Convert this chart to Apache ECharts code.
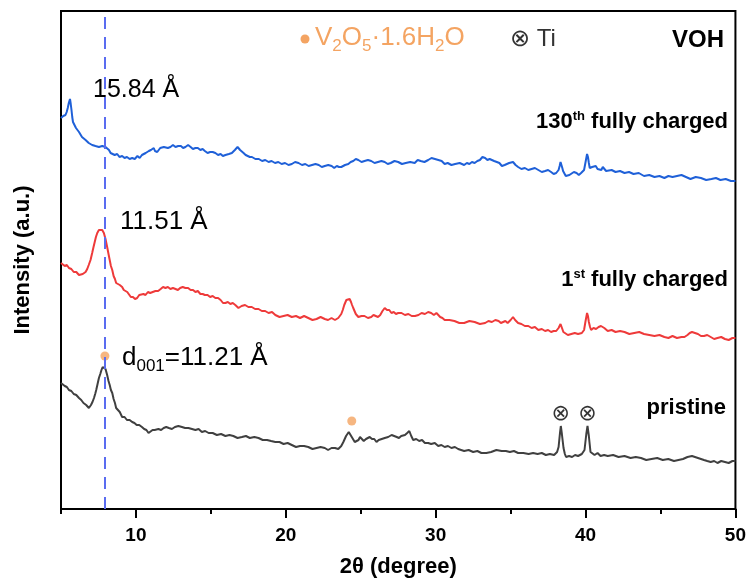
<!DOCTYPE html>
<html>
<head>
<meta charset="utf-8">
<script src="https://cdn.jsdelivr.net/npm/echarts@6/dist/echarts.min.js"></script>
<style>
  html, body { margin: 0; padding: 0; background: #fff; }
  #chart { width: 749px; height: 583px; }
</style>
</head>
<body>
<div id="chart"></div>
<script>
// [2theta (degree), intensity (a.u.)]
const charged130 = [
  [5.0,391],[5.08,390],[5.15,393],[5.22,392],[5.3,394],[5.38,397],[5.45,401],[5.52,406],[5.6,410],[5.65,405],
  [5.7,399],[5.75,392],[5.8,387],[5.9,385],[6.0,381],[6.1,380],[6.2,377],[6.3,376],[6.4,372],[6.52,372],
  [6.64,369],[6.75,369],[6.85,366],[6.97,366],[7.08,364],[7.19,362],[7.3,363],[7.42,361],[7.53,362],[7.64,364],
  [7.75,363],[7.86,361],[7.97,362],[8.08,361],[8.2,359],[8.31,356],[8.42,357],[8.58,354],[8.75,355],[8.9,352],
  [9.08,353],[9.24,351],[9.4,352],[9.58,350],[9.75,351],[9.92,350],[10.1,353],[10.25,351],[10.4,354],[10.52,353],
  [10.65,356],[10.76,356],[10.86,358],[10.93,360],[11.0,359],[11.1,361],[11.19,361],[11.27,358],[11.35,359],[11.42,357],
  [11.5,358],[11.62,361],[11.75,360],[11.86,362],[11.97,361],[12.13,361],[12.3,362],[12.47,364],[12.64,362],[12.82,363],
  [13.0,363],[13.15,361],[13.3,362],[13.48,364],[13.65,362],[13.8,360],[13.97,361],[14.13,361],[14.3,359],[14.45,360],
  [14.6,358],[14.78,356],[14.95,357],[15.12,357],[15.3,356],[15.48,354],[15.65,355],[15.8,353],[15.97,354],[16.08,356],
  [16.2,355],[16.3,357],[16.4,356],[16.5,357],[16.6,359],[16.7,361],[16.78,362],[16.86,361],[16.95,359],[17.06,357],
  [17.18,356],[17.32,354],[17.45,354],[17.6,352],[17.74,352],[17.97,350],[18.2,350],[18.42,348],[18.63,349],[18.85,347],
  [19.05,348],[19.28,346],[19.5,347],[19.72,345],[19.95,346],[20.18,344],[20.4,345],[20.62,347],[20.85,346],[21.08,344],
  [21.3,345],[21.52,343],[21.75,344],[21.98,345],[22.2,344],[22.4,342],[22.6,343],[22.83,344],[23.06,343],[23.23,341],
  [23.4,343],[23.55,342],[23.7,342],[23.82,343],[23.95,344],[24.06,346],[24.17,345],[24.33,347],[24.5,348],[24.67,350],
  [24.84,349],[25.05,347],[25.25,348],[25.48,349],[25.7,348],[25.92,346],[26.15,347],[26.38,348],[26.6,347],[26.8,345],
  [27.0,346],[27.25,348],[27.5,347],[27.75,345],[28.0,346],[28.3,347],[28.6,346],[28.8,349],[29.0,348],[29.25,347],
  [29.5,349],[29.72,351],[29.95,350],[30.18,349],[30.4,348],[30.6,345],[30.8,346],[31.05,344],[31.3,345],[31.6,346],
  [31.9,344],[32.08,346],[32.25,345],[32.42,347],[32.6,346],[32.78,348],[32.95,349],[33.12,352],[33.3,351],[33.45,349],
  [33.6,350],[33.75,349],[33.9,348],[34.08,347],[34.25,346],[34.42,343],[34.6,344],[34.75,345],[34.9,346],[35.03,344],
  [35.16,347],[35.33,344],[35.5,342],[35.72,340],[35.95,341],[36.18,339],[36.4,340],[36.62,341],[36.85,339],[37.08,337],
  [37.3,338],[37.5,339],[37.7,337],[37.87,335],[38.04,336],[38.12,337],[38.2,339],[38.27,343],[38.33,347],[38.39,345],
  [38.45,341],[38.5,338],[38.55,336],[38.68,333],[38.8,335],[38.92,334],[39.04,335],[39.22,337],[39.4,336],[39.55,334],
  [39.7,336],[39.8,337],[39.9,339],[40.0,347],[40.1,355],[40.16,352],[40.22,346],[40.28,341],[40.33,339],[40.44,342],
  [40.55,340],[40.68,343],[40.8,340],[40.92,342],[41.05,339],[41.15,342],[41.26,341],[41.37,338],[41.48,337],[41.74,339],
  [42.0,337],[42.3,338],[42.6,336],[42.9,337],[43.2,335],[43.55,336],[43.9,333],[44.25,334],[44.6,332],[44.93,333],
  [45.26,331],[45.53,333],[45.8,332],[46.1,333],[46.4,334],[46.7,332],[47.0,330],[47.35,332],[47.7,331],[48.05,329],
  [48.4,330],[48.7,331],[49.0,329],[49.35,330],[49.7,328],[50.0,328]
];

const charged1st = [
  [5.0,246],[5.12,245],[5.25,243],[5.39,244],[5.53,241],[5.69,240],[5.85,237],[6.02,237],[6.2,234],[6.33,236],
  [6.45,235],[6.55,234],[6.64,237],[6.75,240],[6.85,244],[6.97,249],[7.08,256],[7.17,262],[7.25,267],[7.33,272],
  [7.42,276],[7.53,279],[7.64,278],[7.75,279],[7.86,276],[7.97,270],[8.08,262],[8.17,255],[8.25,249],[8.33,243],
  [8.42,239],[8.51,233],[8.6,230],[8.68,226],[8.75,224],[8.92,224],[9.08,222],[9.19,219],[9.3,218],[9.42,217],
  [9.53,215],[9.66,212],[9.8,212],[9.94,210],[10.08,211],[10.22,214],[10.35,213],[10.5,215],[10.64,214],[10.8,217],
  [10.95,216],[11.12,217],[11.3,218],[11.48,218],[11.65,220],[11.81,222],[11.97,221],[12.13,222],[12.3,220],[12.47,221],
  [12.64,220],[12.8,219],[12.95,221],[13.12,222],[13.3,221],[13.48,221],[13.65,219],[13.81,219],[13.97,217],[14.13,218],
  [14.3,215],[14.45,215],[14.6,214],[14.78,214],[14.95,212],[15.12,213],[15.3,211],[15.48,211],[15.65,209],[15.81,206],
  [15.97,206],[16.13,207],[16.3,205],[16.46,206],[16.63,204],[16.84,201],[17.05,203],[17.28,204],[17.5,202],[17.73,202],
  [17.95,200],[18.18,200],[18.4,198],[18.62,198],[18.85,196],[19.08,197],[19.3,194],[19.58,192],[19.85,193],[20.12,194],
  [20.4,192],[20.68,193],[20.95,191],[21.22,193],[21.5,191],[21.78,189],[22.05,190],[22.32,192],[22.6,190],[22.82,189],
  [23.05,191],[23.28,189],[23.5,191],[23.6,192],[23.7,195],[23.8,199],[23.9,204],[24.04,209],[24.17,210],[24.26,210],
  [24.35,207],[24.42,204],[24.5,201],[24.67,195],[24.84,192],[25.05,193],[25.25,193],[25.48,191],[25.7,192],[25.85,194],
  [26.0,193],[26.15,192],[26.3,194],[26.45,198],[26.6,201],[26.75,199],[26.9,199],[27.05,196],[27.2,197],[27.35,195],
  [27.5,196],[27.72,196],[27.95,194],[28.18,195],[28.4,193],[28.62,193],[28.85,194],[29.06,196],[29.28,195],[29.5,197],
  [29.7,196],[29.88,194],[30.05,196],[30.18,194],[30.3,192],[30.45,191],[30.6,189],[30.92,189],[31.25,188],[31.58,186],
  [31.9,186],[32.25,188],[32.6,187],[32.95,185],[33.3,186],[33.52,188],[33.75,187],[33.98,189],[34.2,188],[34.35,186],
  [34.5,187],[34.65,188],[34.8,186],[34.9,187],[35.0,189],[35.08,191],[35.16,192],[35.23,191],[35.3,189],[35.4,187],
  [35.5,186],[35.72,185],[35.95,183],[36.18,183],[36.4,181],[36.62,182],[36.85,179],[37.08,180],[37.3,178],[37.5,179],
  [37.7,177],[37.87,178],[38.04,178],[38.12,179],[38.2,181],[38.27,183],[38.33,185],[38.39,183],[38.45,180],[38.52,177],
  [38.6,176],[38.82,174],[39.05,175],[39.28,176],[39.5,175],[39.63,174],[39.75,176],[39.83,177],[39.9,179],[40.0,188],
  [40.1,196],[40.16,193],[40.22,187],[40.3,182],[40.37,179],[40.53,181],[40.7,180],[40.87,182],[41.03,183],[41.14,182],
  [41.25,181],[41.37,179],[41.48,178],[41.74,179],[42.0,177],[42.3,178],[42.6,177],[42.92,175],[43.25,176],[43.58,177],
  [43.9,175],[44.25,174],[44.6,173],[44.93,174],[45.26,172],[45.53,171],[45.8,173],[46.1,171],[46.4,172],[46.6,172],
  [46.8,174],[46.95,176],[47.1,177],[47.3,176],[47.5,175],[47.7,173],[47.9,173],[48.12,174],[48.35,172],[48.58,170],
  [48.8,171],[49.05,172],[49.3,170],[49.55,169],[49.8,171],[50.0,171]
];

const pristine = [
  [5.0,126],[5.12,125],[5.25,123],[5.39,122],[5.53,119],[5.69,118],[5.85,115],[6.02,114],[6.2,111],[6.35,109],
  [6.5,106],[6.68,104],[6.86,101],[6.93,102],[7.0,104],[7.1,107],[7.2,111],[7.28,115],[7.35,119],[7.44,125],
  [7.53,131],[7.62,135],[7.7,139],[7.78,142],[7.86,143],[7.97,140],[8.08,134],[8.17,128],[8.25,124],[8.33,119],
  [8.42,116],[8.51,110],[8.6,106],[8.68,101],[8.75,99],[8.92,97],[9.08,92],[9.24,92],[9.4,89],[9.58,89],
  [9.75,87],[9.9,86],[10.05,84],[10.22,84],[10.4,82],[10.55,80],[10.7,79],[10.84,76],[10.97,77],[11.11,79],
  [11.25,79],[11.38,81],[11.5,80],[11.68,79],[11.85,81],[12.02,82],[12.2,81],[12.4,80],[12.6,82],[12.83,83],
  [13.07,82],[13.28,81],[13.5,81],[13.74,80],[13.97,79],[14.18,80],[14.4,77],[14.62,78],[14.85,76],[15.12,76],
  [15.4,74],[15.68,75],[15.97,73],[16.24,74],[16.5,73],[16.78,71],[17.07,72],[17.34,73],[17.6,71],[17.9,72],
  [18.18,71],[18.46,69],[18.75,69],[19.02,68],[19.3,67],[19.58,67],[19.85,65],[20.12,66],[20.4,64],[20.68,62],
  [20.95,63],[21.22,63],[21.5,62],[21.78,60],[22.05,61],[22.32,62],[22.6,61],[22.82,59],[23.05,61],[23.28,61],
  [23.5,60],[23.6,61],[23.7,63],[23.77,65],[23.84,67],[24.02,73],[24.2,77],[24.3,75],[24.4,72],[24.5,70],
  [24.6,67],[24.72,68],[24.85,69],[24.95,72],[25.06,70],[25.2,68],[25.35,70],[25.48,71],[25.6,72],[25.75,70],
  [25.9,70],[26.05,67],[26.2,69],[26.4,70],[26.6,71],[26.83,72],[27.06,74],[27.23,73],[27.4,72],[27.55,71],
  [27.7,73],[27.83,73],[27.95,74],[28.1,76],[28.24,78],[28.37,73],[28.5,69],[28.7,70],[28.9,68],[29.09,69],
  [29.28,66],[29.5,66],[29.7,65],[29.94,66],[30.17,63],[30.38,64],[30.6,62],[30.82,63],[31.05,61],[31.28,62],
  [31.5,60],[31.7,59],[31.9,58],[32.2,59],[32.5,57],[32.78,58],[33.05,56],[33.38,56],[33.7,57],[34.05,59],
  [34.4,58],[34.68,58],[34.95,57],[35.22,58],[35.5,56],[35.85,56],[36.2,55],[36.5,56],[36.8,55],[37.08,56],
  [37.35,54],[37.62,55],[37.9,54],[38.0,55],[38.1,57],[38.2,62],[38.3,77],[38.35,83],[38.42,75],[38.53,61],
  [38.62,55],[38.7,52],[38.9,53],[39.1,52],[39.3,54],[39.5,53],[39.62,52],[39.75,55],[39.85,56],[39.93,59],
  [40.05,75],[40.13,83],[40.22,73],[40.33,57],[40.46,55],[40.6,54],[40.8,56],[41.0,53],[41.24,54],[41.48,53],
  [41.84,54],[42.2,52],[42.6,53],[43.0,51],[43.35,52],[43.7,51],[44.05,49],[44.4,50],[44.78,51],[45.15,49],
  [45.52,50],[45.9,48],[46.2,49],[46.5,50],[46.8,52],[47.1,53],[47.3,52],[47.5,51],[47.7,50],[47.9,49],
  [48.12,48],[48.35,47],[48.58,48],[48.8,46],[49.05,48],[49.3,47],[49.55,46],[49.8,48],[50.0,48]
];

const vohPeaks = [[7.93, 153], [24.4, 88]];     // orange dots
const tiPeaks = [[38.35, 95], [40.13, 95]];     // ⊗ marks
const dLine = 7.95;
const tickLabels = [10, 20, 30, 40, 50];

const FONT = "'Liberation Sans', Arial, Helvetica, sans-serif";
const ORANGE = '#f4a462';

let chart = echarts.init(document.getElementById('chart'), null, { renderer: 'canvas' });

// text with subscripts: pieces laid out one after another, subscripts smaller and lowered
let measure = document.createElement('canvas').getContext('2d');
let subText = (x, y, pieces, color) => {
  let out = [];
  pieces.forEach(([t, sub]) => {
    let font = sub ? '17px ' + FONT : '26px ' + FONT;
    measure.font = font;
    out.push({
      type: 'text', x: x, y: sub ? y + 8 : y,
      style: { text: t, font: font, fill: color, verticalAlign: 'middle' }
    });
    x += measure.measureText(t).width;
  });
  return out;
}

let supRich = (color) => ({
  a: { fontFamily: FONT, fontSize: 22, fontWeight: 'bold', color: color, lineHeight: 24 },
  s: { fontFamily: FONT, fontSize: 13, fontWeight: 'bold', color: color, verticalAlign: 'top', lineHeight: 12 }
})

let option = {
  animation: false,
  backgroundColor: '#fff',
  grid: {
    left: 61, right: 12, top: 11, bottom: 74,
    show: true, borderColor: '#000', borderWidth: 2
  },
  xAxis: [
    {
      type: 'value', min: 5, max: 50, interval: 5,
      name: '2θ (degree)', nameLocation: 'middle', nameGap: 47,
      nameTextStyle: { fontFamily: FONT, fontSize: 22, fontWeight: 'bold', color: '#000' },
      axisLine: { lineStyle: { color: '#000', width: 2 } },
      axisTick: { length: 5, lineStyle: { color: '#000', width: 2 } },
      axisLabel: { show: false },
      splitLine: { show: false }
    },
    {
      type: 'value', min: 5, max: 50, position: 'bottom',
      axisLine: { show: false },
      axisTick: { customValues: tickLabels, length: 9, lineStyle: { color: '#000', width: 2 } },
      axisLabel: {
        customValues: tickLabels, margin: 17,
        fontFamily: FONT, fontSize: 19, fontWeight: 'bold', color: '#000'
      },
      splitLine: { show: false }
    }
  ],
  yAxis: {
    type: 'value', min: 0, max: 498,
    name: 'Intensity (a.u.)', nameLocation: 'middle', nameGap: 27,
    nameTextStyle: { fontFamily: FONT, fontSize: 22, fontWeight: 'bold', color: '#000' },
    axisLine: { show: false }, axisTick: { show: false },
    axisLabel: { show: false }, splitLine: { show: false }
  },
  series: [
    {
      name: 'pristine', type: 'line', data: pristine, showSymbol: false,
      lineStyle: { color: '#404040', width: 2 }, z: 3,
      markLine: {
        silent: true, symbol: 'none', label: { show: false },
        lineStyle: { color: '#5a6cf0', type: [12, 8], width: 2 },
        data: [{ xAxis: dLine }]
      }
    },
    {
      name: '1st', type: 'line', data: charged1st, showSymbol: false,
      lineStyle: { color: '#ee3a3a', width: 2 }, z: 3
    },
    {
      name: '130th', type: 'line', data: charged130, showSymbol: false,
      lineStyle: { color: '#1f60d8', width: 2 }, z: 3
    },
    {
      name: 'V2O5', type: 'scatter', data: vohPeaks, symbolSize: 9,
      itemStyle: { color: ORANGE }, z: 4
    },
    {
      name: 'Ti', type: 'scatter', data: tiPeaks, symbolSize: 1,
      itemStyle: { color: 'transparent' },
      label: {
        show: true, position: 'inside', formatter: '⊗',
        fontFamily: "'DejaVu Sans', sans-serif", fontSize: 22, color: '#000'
      }, z: 4
    }
  ],
  graphic: [
    { type: 'text', x: 93, y: 90, style: { text: '15.84 Å', font: '25px ' + FONT, fill: '#000', verticalAlign: 'middle' } },
    { type: 'text', x: 120, y: 222, style: { text: '11.51 Å', font: '26px ' + FONT, fill: '#000', verticalAlign: 'middle' } },
    ...subText(122, 358, [['d', 0], ['001', 1], ['=11.21 Å', 0]], '#000'),
    { type: 'circle', shape: { cx: 305, cy: 39, r: 4.5 }, style: { fill: ORANGE } },
    ...subText(315, 38, [['V', 0], ['2', 1], ['O', 0], ['5', 1], ['·1.6H', 0], ['2', 1], ['O', 0]], ORANGE),
    { type: 'text', x: 510, y: 39, style: { text: '⊗ Ti', font: '24px ' + FONT, fill: '#333', verticalAlign: 'middle' } },
    { type: 'text', x: 724, y: 40, style: { text: 'VOH', font: 'bold 24px ' + FONT, fill: '#000', align: 'right', verticalAlign: 'middle' } },
    {
      type: 'text', x: 728, y: 122,
      style: { text: '{a|130}{s|th}{a| fully charged}', align: 'right', verticalAlign: 'middle', rich: supRich('#1f6ab2') }
    },
    {
      type: 'text', x: 728, y: 280,
      style: { text: '{a|1}{s|st}{a| fully charged}', align: 'right', verticalAlign: 'middle', rich: supRich('#e8141c') }
    },
    { type: 'text', x: 726, y: 408, style: { text: 'pristine', font: 'bold 22px ' + FONT, fill: '#000', align: 'right', verticalAlign: 'middle' } }
  ]
};

chart.setOption(option);
</script>
</body>
</html>
